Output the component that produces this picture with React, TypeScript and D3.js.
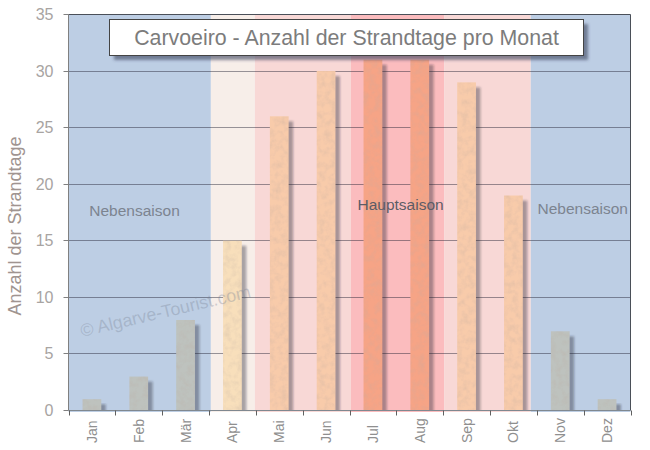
import React from "react";
import * as d3 from "d3";

const months = ["Jan","Feb","Mär","Apr","Mai","Jun","Jul","Aug","Sep","Okt","Nov","Dez"];
const beachDays = [1,3,8,15,26,30,31,31,29,19,7,1];
const barColors = ["#bec2be","#bec2be","#bec2be","#f8dfbb","#f8cbaa","#f8cbaa","#f6a486","#f6a486","#f8cbaa","#f8cbaa","#bec2be","#bec2be"];
const bandEdges = [0,3.04,3.98,6.03,8.02,9.87,12];
const bandColors = ["#bdcee4","#f7eee9","#f8d8d6","#fbbcbe","#f8d8d6","#bdcee4"];
const yTicks = [0,5,10,15,20,25,30,35];
const seasonLabels = [
  {text:"Nebensaison", m:1.41, v:17.2, color:"#7c8490"},
  {text:"Hauptsaison", m:7.09, v:17.75, color:"#5c5c66"},
  {text:"Nebensaison", m:10.98, v:17.4, color:"#7c8490"},
];
const title = "Carvoeiro - Anzahl der Strandtage pro Monat";
const yTitle = "Anzahl der Strandtage";
const watermark = "© Algarve-Tourist.com";

const W = 650, H = 450;
const L = 68.5, R = 630.5, T = 14.5, B = 410.5;
const FONT = "'Liberation Sans', Arial, sans-serif";

export default function App() {
  const xM = d3.scaleLinear().domain([0,12]).range([L,R]);
  const xB = d3.scaleBand<string>().domain(months).range([L,R]).paddingInner(0.6).paddingOuter(0.3);
  const y = d3.scaleLinear().domain([0,35]).range([B,T]);
  const gy = (t:number) => Math.floor(y(t))+0.5;
  return (
    <svg width={W} height={H} viewBox={`0 0 ${W} ${H}`} style={{position:"absolute",left:0,top:0,background:"#fff"}} fontFamily={FONT}>
      <defs>
        <clipPath id="plot"><rect x={L} y={T} width={R-L} height={B-T}/></clipPath>
        <filter id="blur" x="-50%" y="-10%" width="200%" height="120%"><feGaussianBlur stdDeviation="1.3"/></filter>
        <filter id="titleBlur" x="-5%" y="-30%" width="110%" height="160%"><feGaussianBlur stdDeviation="1.5"/></filter>
        <filter id="grain" x="0" y="0" width="100%" height="100%">
          <feTurbulence type="fractalNoise" baseFrequency="0.16" numOctaves="3" seed="4" result="n"/>
          <feColorMatrix in="n" type="matrix" values="0 0 0 0 0.5  0 0 0 0 0.4  0 0 0 0 0.35  0.6 0 0 0 -0.24" result="m"/>
          <feComposite in="m" in2="SourceGraphic" operator="in" result="c"/>
          <feMerge><feMergeNode in="SourceGraphic"/><feMergeNode in="c"/></feMerge>
        </filter>
      </defs>

      {bandColors.map((c,i)=>(
        <rect key={i} x={xM(bandEdges[i])} y={T} width={xM(bandEdges[i+1])-xM(bandEdges[i])} height={B-T+1.5} fill={c}/>
      ))}

      {yTicks.filter(t=>t>0&&t<35).map(t=>(
        <line key={t} x1={L} x2={R} y1={gy(t)} y2={gy(t)} stroke="#202030" strokeOpacity={0.45}/>
      ))}

      <g clipPath="url(#plot)">
        {beachDays.map((v,i)=>(
          <rect key={i} x={xB(months[i])!+4.5} y={y(v)+5} width={xB.bandwidth()} height={B-y(v)} fill="#20202c" fillOpacity={0.36} filter="url(#blur)"/>
        ))}
      </g>
      {beachDays.map((v,i)=>(
        <rect key={i} x={xB(months[i])!} y={y(v)} width={xB.bandwidth()} height={B-y(v)} fill={barColors[i]} filter="url(#grain)"/>
      ))}

      <text transform="translate(82,337) rotate(-13.2)" fontSize={17.8} fill="#7a8496" fillOpacity={0.34}>{watermark}</text>

      {seasonLabels.map((s,i)=>(
        <text key={i} x={xM(s.m)} y={y(s.v)} textAnchor="middle" fontSize={15.5} fill={s.color}>{s.text}</text>
      ))}

      <path d={`M${L},${B}V${T}`} stroke="#808080" fill="none"/>
      <path d={`M${L},${T}H${R}V${B}`} stroke="#4a4f58" fill="none"/>
      <path d={`M${L},${B}H${R}`} stroke="#808890" fill="none"/>

      {yTicks.map(t=>(
        <g key={t}>
          <line x1={L-5} x2={L} y1={gy(t)} y2={gy(t)} stroke="#808080"/>
          <text x={L-15} y={y(t)+5.5} textAnchor="end" fontSize={16} fill="#a8a4a2">{t}</text>
        </g>
      ))}

      {d3.range(13).map(i=>(
        <line key={i} x1={Math.round(xM(i))+0.5} x2={Math.round(xM(i))+0.5} y1={B} y2={B+5} stroke="#606060"/>
      ))}
      {months.map(m=>(
        <text key={m} transform={`translate(${xB(m)!+xB.bandwidth()/2+5},443) rotate(-90)`} fontSize={14} fill="#8f8f8f">{m}</text>
      ))}

      <text transform="translate(21,226) rotate(-90)" textAnchor="middle" fontSize={18} fill="#a09490">{yTitle}</text>

      <rect x={114} y={24} width={474} height={36} fill="#3a4660" fillOpacity={0.6} filter="url(#titleBlur)"/>
      <rect x={109.5} y={19.5} width={474} height={36} fill="#fff" stroke="#444"/>
      <text x={346.5} y={45} textAnchor="middle" fontSize={21.35} fill="#7c7c7c">{title}</text>
    </svg>
  );
}
